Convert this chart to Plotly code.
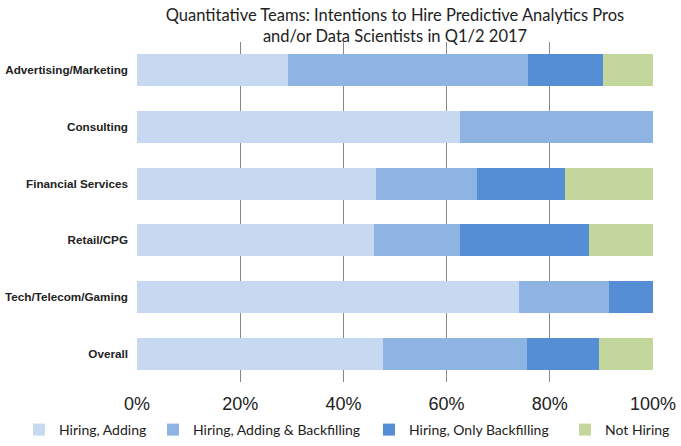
import plotly.graph_objects as go

categories = ["Advertising/Marketing", "Consulting", "Financial Services",
              "Retail/CPG", "Tech/Telecom/Gaming", "Overall"]
series_names = ["Hiring, Adding", "Hiring, Adding & Backfilling",
                "Hiring, Only Backfilling", "Not Hiring"]
hiring_adding = [29.3, 62.5, 46.3, 45.9, 74.0, 47.6]
adding_backfilling = [46.4, 37.5, 19.5, 16.6, 17.4, 27.9]
only_backfilling = [14.6, 0.0, 17.1, 25.0, 8.6, 14.0]
not_hiring = [9.7, 0.0, 17.1, 12.5, 0.0, 10.5]
colors = ["#C6D9F1", "#8EB4E3", "#558ED5", "#C3D69B"]
tick_vals = [0, 20, 40, 60, 80, 100]
tick_text = ["0%", "20%", "40%", "60%", "80%", "100%"]

W, H = 681, 446
legend_ids = ["legend", "legend2", "legend3", "legend4"]
legend_text_x = [59, 193, 409, 605]

fig = go.Figure()
for name, vals, col, lid in zip(series_names,
                                [hiring_adding, adding_backfilling, only_backfilling, not_hiring],
                                colors, legend_ids):
    fig.add_trace(go.Bar(y=categories, x=vals, name=name, orientation="h",
                         legend=lid,
                         marker=dict(color=col, line=dict(width=0))))

legend_font = dict(family="Lato", size=14, color="#222222")
legends = {}
for lid, tx in zip(legend_ids, legend_text_x):
    legends[lid] = dict(orientation="h", xref="container", yref="container",
                        x=(tx - 40) / W, y=1 - 430 / H, xanchor="left", yanchor="middle",
                        font=legend_font, itemwidth=30, bgcolor="rgba(0,0,0,0)")

fig.update_layout(
    barmode="stack",
    bargap=0.435,
    width=W, height=H,
    margin=dict(l=137, r=28, t=42, b=64, autoexpand=False),
    plot_bgcolor="white", paper_bgcolor="white",
    title=dict(text="Quantitative Teams: Intentions to Hire Predictive Analytics Pros<br>and/or Data Scientists in Q1/2 2017",
               x=395 / W, xanchor="center", xref="container",
               y=1 - 21 / H, yanchor="middle", yref="container",
               font=dict(family="Lato", size=16.5, color="#222222")),
    xaxis=dict(range=[0, 100], tickvals=tick_vals, ticktext=tick_text,
               showgrid=True, gridcolor="#878787", gridwidth=1,
               zeroline=False, showline=False, automargin=False,
               tickfont=dict(family="Liberation Sans", size=18, color="#222222"),
               ticklabelstandoff=9, fixedrange=True),
    yaxis=dict(categoryorder="array", categoryarray=categories, autorange="reversed",
               tickfont=dict(family="Liberation Sans", size=11.7, color="#222222", weight="bold"),
               ticklabelstandoff=8, showgrid=False, showline=False, automargin=False),
    showlegend=True,
    **legends,
)
fig.write_html("out.html", config={"displayModeBar": False},
               post_script="document.body.style.margin='0px';document.body.style.padding='0px';")
